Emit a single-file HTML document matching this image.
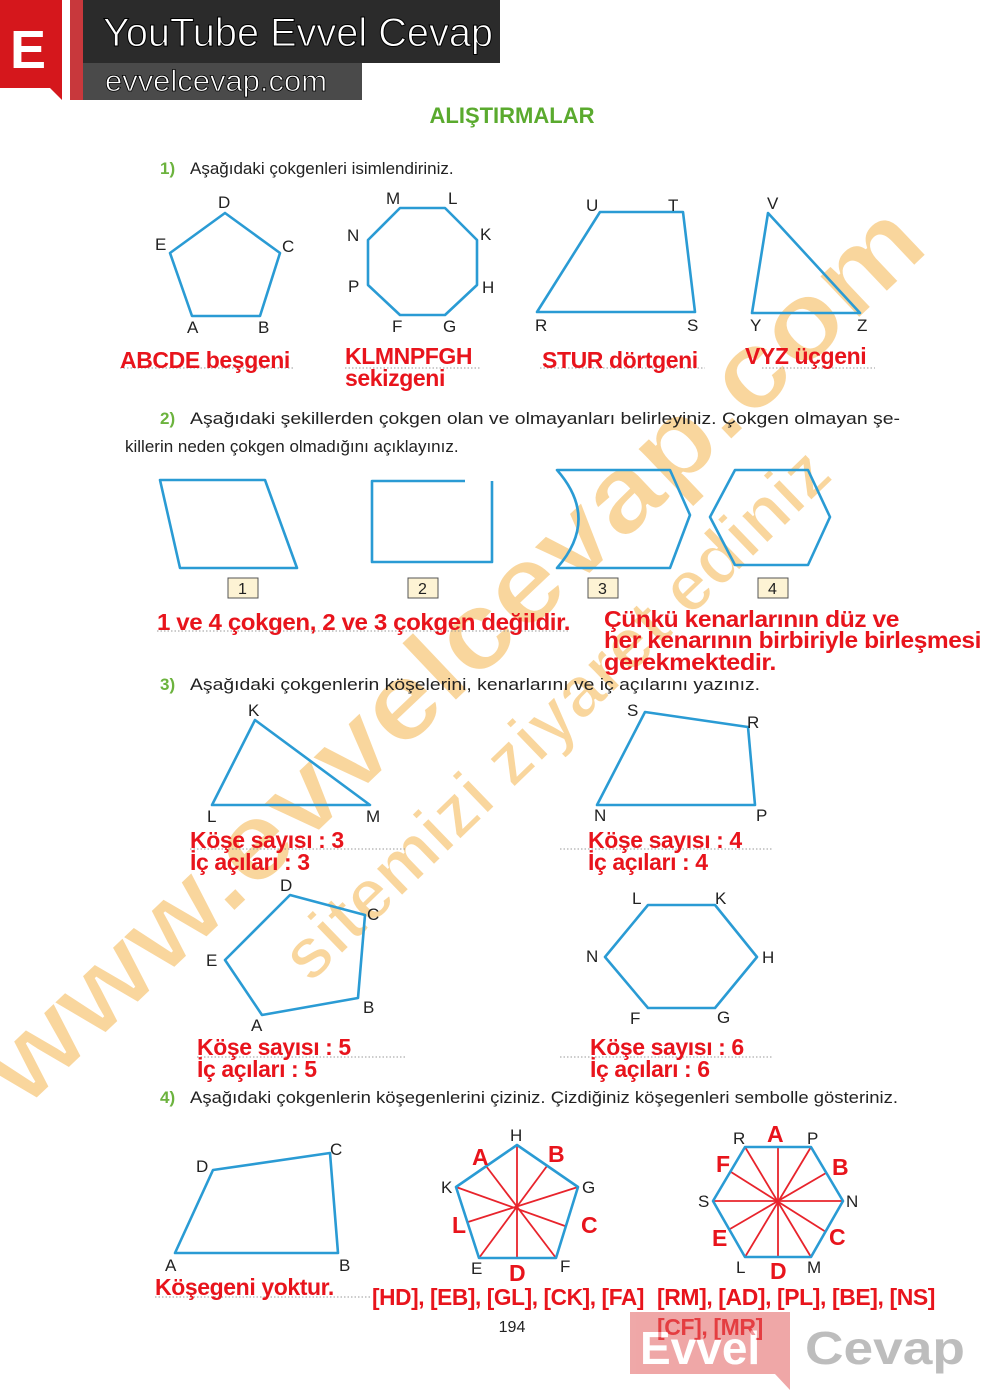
<!DOCTYPE html>
<html><head><meta charset="utf-8"><style>
body{margin:0;background:#fff}
svg{display:block}
.t{font-family:"Liberation Sans",sans-serif;font-size:17px;fill:#222}
.n{font-family:"Liberation Sans",sans-serif;font-weight:bold;font-size:17px;fill:#6cb33e}
.l{font-family:"Liberation Sans",sans-serif;font-size:17px;fill:#222}
.r{font-family:"Liberation Sans",sans-serif;font-weight:bold;font-size:23px;fill:#e8141c;letter-spacing:-0.4px}
.b{fill:none;stroke:#2a9bd4;stroke-width:2.6;stroke-linejoin:round}
.d{stroke:#999;stroke-width:1;stroke-dasharray:1.5 2}
.rl{stroke:#e8242c;stroke-width:1.8}
.w{font-family:"Liberation Sans",sans-serif;font-weight:bold;fill:#f7c97d;stroke:#fff;stroke-width:2;opacity:.75}
</style></head><body>
<svg width="1000" height="1400" viewBox="0 0 1000 1400" xmlns="http://www.w3.org/2000/svg">
<!-- header -->
<path d="M0 0H62V100L50 88H0Z" fill="#d5171c"/>
<text x="10" y="68" font-family="Liberation Sans" font-weight="bold" font-size="54" fill="#fff">E</text>
<rect x="70" y="0" width="13" height="100" fill="#c8383c"/>
<rect x="83" y="0" width="417" height="63" fill="#2b2b2b"/>
<rect x="83" y="63" width="279" height="37" fill="#4a4a4a"/>
<text x="103" y="46" font-family="Liberation Sans" font-size="40" fill="#fff" stroke="#000" stroke-width="1" textLength="390" lengthAdjust="spacingAndGlyphs">YouTube Evvel Cevap</text>
<text x="105" y="91" font-family="Liberation Sans" font-size="30" fill="#fff" stroke="#000" stroke-width="0.8" textLength="222" lengthAdjust="spacingAndGlyphs">evvelcevap.com</text>
<text x="512" y="123" text-anchor="middle" font-family="Liberation Sans" font-weight="bold" font-size="22" fill="#5aaa2e">ALIŞTIRMALAR</text>

<!-- watermark -->
<text class="w" font-size="110" transform="translate(25,1110) rotate(-43.5)" textLength="1250" lengthAdjust="spacingAndGlyphs">www.evvelcevap.com</text>
<text class="w" font-size="72" transform="translate(310,985) rotate(-44)" textLength="730" lengthAdjust="spacingAndGlyphs">sitemizi ziyaret ediniz</text>

<!-- section 1 -->
<text class="n" x="160" y="174">1)</text><text class="t" x="190" y="174">Aşağıdaki çokgenleri isimlendiriniz.</text>
<polygon class="b" points="225,213 280,253 260,316 192,316 170,253"/>
<text class="l" x="218" y="208">D</text><text class="l" x="282" y="252">C</text><text class="l" x="258" y="333">B</text><text class="l" x="187" y="333">A</text><text class="l" x="155" y="250">E</text>
<polygon class="b" points="400,208 445,208 477,240 477,285 445,315 400,315 368,285 368,240"/>
<text class="l" x="386" y="204">M</text><text class="l" x="448" y="204">L</text><text class="l" x="480" y="240">K</text><text class="l" x="482" y="293">H</text><text class="l" x="443" y="332">G</text><text class="l" x="392" y="332">F</text><text class="l" x="348" y="292">P</text><text class="l" x="347" y="241">N</text>
<polygon class="b" points="600,212 683,212 695,312 537,312"/>
<text class="l" x="586" y="211">U</text><text class="l" x="668" y="211">T</text><text class="l" x="687" y="331">S</text><text class="l" x="535" y="331">R</text>
<polygon class="b" points="768,213 860,313 752,313"/>
<text class="l" x="767" y="209">V</text><text class="l" x="857" y="331">Z</text><text class="l" x="750" y="331">Y</text>
<line class="d" x1="120" y1="368" x2="295" y2="368"/><line class="d" x1="345" y1="368" x2="480" y2="368"/><line class="d" x1="540" y1="368" x2="705" y2="368"/><line class="d" x1="762" y1="368" x2="875" y2="368"/>
<text class="r" x="120" y="368">ABCDE beşgeni</text>
<text class="r" x="345" y="364">KLMNPFGH</text><text class="r" x="345" y="386">sekizgeni</text>
<text class="r" x="542" y="368">STUR dörtgeni</text>
<text class="r" x="745" y="364">VYZ üçgeni</text>

<!-- section 2 -->
<text class="n" x="160" y="424">2)</text><text class="t" x="190" y="424" textLength="710" lengthAdjust="spacingAndGlyphs">Aşağıdaki şekillerden çokgen olan ve olmayanları belirleyiniz. Çokgen olmayan şe-</text>
<text class="t" x="125" y="452">killerin neden çokgen olmadığını açıklayınız.</text>
<polygon class="b" points="160,480 265,480 297,568 180,568"/>
<polyline class="b" points="465,481 372,481 372,562 492,562 492,481"/>
<path class="b" d="M557,470 H670 L690,515 L670,568 H557 Q600,519 557,470Z"/>
<polygon class="b" points="735,470 808,470 830,517 808,565 735,565 710,517"/>
<g font-family="Liberation Sans" font-size="16" fill="#222">
<rect x="228" y="578" width="30" height="20" fill="#fdf3d4" stroke="#555"/><text x="238" y="594">1</text>
<rect x="408" y="578" width="30" height="20" fill="#fdf3d4" stroke="#555"/><text x="418" y="594">2</text>
<rect x="588" y="578" width="30" height="20" fill="#fdf3d4" stroke="#555"/><text x="598" y="594">3</text>
<rect x="758" y="578" width="30" height="20" fill="#fdf3d4" stroke="#555"/><text x="768" y="594">4</text>
</g>
<line class="d" x1="157" y1="631" x2="570" y2="631"/>
<text class="r" x="157" y="630" textLength="413" lengthAdjust="spacingAndGlyphs">1 ve 4 çokgen, 2 ve 3 çokgen değildir.</text>
<text class="r" x="604" y="627" textLength="295" lengthAdjust="spacingAndGlyphs">Çünkü kenarlarının düz ve</text>
<text class="r" x="604" y="648" textLength="377" lengthAdjust="spacingAndGlyphs">her kenarının birbiriyle birleşmesi</text>
<text class="r" x="604" y="670" textLength="172" lengthAdjust="spacingAndGlyphs">gerekmektedir.</text>

<!-- section 3 -->
<text class="n" x="160" y="690">3)</text><text class="t" x="190" y="690" textLength="570" lengthAdjust="spacingAndGlyphs">Aşağıdaki çokgenlerin köşelerini, kenarlarını ve iç açılarını yazınız.</text>
<polygon class="b" points="255,720 370,805 212,805"/>
<text class="l" x="248" y="716">K</text><text class="l" x="366" y="822">M</text><text class="l" x="207" y="822">L</text>
<polygon class="b" points="645,712 748,727 755,805 597,805"/>
<text class="l" x="627" y="716">S</text><text class="l" x="747" y="728">R</text><text class="l" x="756" y="821">P</text><text class="l" x="594" y="821">N</text>
<line class="d" x1="190" y1="849" x2="405" y2="849"/><line class="d" x1="560" y1="849" x2="773" y2="849"/>
<text class="r" x="190" y="848">Köşe sayısı : 3</text><text class="r" x="190" y="870">İç açıları : 3</text>
<text class="r" x="588" y="848">Köşe sayısı : 4</text><text class="r" x="588" y="870">İç açıları : 4</text>
<polygon class="b" points="290,895 365,915 358,998 262,1015 225,960"/>
<text class="l" x="280" y="891">D</text><text class="l" x="367" y="920">C</text><text class="l" x="363" y="1013">B</text><text class="l" x="251" y="1031">A</text><text class="l" x="206" y="966">E</text>
<polygon class="b" points="648,905 715,905 757,957 715,1008 648,1008 605,957"/>
<text class="l" x="632" y="904">L</text><text class="l" x="715" y="904">K</text><text class="l" x="762" y="963">H</text><text class="l" x="717" y="1023">G</text><text class="l" x="630" y="1024">F</text><text class="l" x="586" y="962">N</text>
<line class="d" x1="197" y1="1057" x2="405" y2="1057"/><line class="d" x1="560" y1="1057" x2="773" y2="1057"/>
<text class="r" x="197" y="1055">Köşe sayısı : 5</text><text class="r" x="197" y="1077">İç açıları : 5</text>
<text class="r" x="590" y="1055">Köşe sayısı : 6</text><text class="r" x="590" y="1077">İç açıları : 6</text>

<!-- section 4 -->
<text class="n" x="160" y="1103">4)</text><text class="t" x="190" y="1103" textLength="708" lengthAdjust="spacingAndGlyphs">Aşağıdaki çokgenlerin köşegenlerini çiziniz. Çizdiğiniz köşegenleri sembolle gösteriniz.</text>
<polygon class="b" points="213,1170 330,1153 338,1253 175,1253"/>
<text class="l" x="196" y="1172">D</text><text class="l" x="330" y="1155">C</text><text class="l" x="339" y="1271">B</text><text class="l" x="165" y="1271">A</text>
<g class="rl">
<line x1="517" y1="1145" x2="517" y2="1258"/><line x1="578" y1="1187" x2="468" y2="1222"/><line x1="556" y1="1258" x2="486" y2="1166"/><line x1="479" y1="1258" x2="547" y2="1166"/><line x1="456" y1="1187" x2="565" y2="1226"/>
<line x1="745" y1="1147" x2="811" y2="1257"/><line x1="811" y1="1147" x2="745" y2="1257"/><line x1="778" y1="1147" x2="778" y2="1257"/><line x1="843" y1="1201" x2="713" y2="1201"/><line x1="826" y1="1173" x2="730" y2="1229"/><line x1="826" y1="1232" x2="731" y2="1172"/>
</g>
<polygon class="b" points="517,1145 578,1187 556,1258 479,1258 456,1187"/>
<polygon class="b" points="745,1147 811,1147 843,1201 811,1257 745,1257 713,1201"/>
<text class="l" x="510" y="1141">H</text><text class="l" x="582" y="1193">G</text><text class="l" x="560" y="1272">F</text><text class="l" x="471" y="1274">E</text><text class="l" x="441" y="1193">K</text>
<text class="l" x="733" y="1144">R</text><text class="l" x="807" y="1144">P</text><text class="l" x="846" y="1207">N</text><text class="l" x="807" y="1273">M</text><text class="l" x="736" y="1273">L</text><text class="l" x="698" y="1207">S</text>
<g class="r" style="font-size:23px">
<text x="472" y="1165">A</text><text x="548" y="1162">B</text><text x="581" y="1233">C</text><text x="509" y="1281">D</text><text x="452" y="1233">L</text>
<text x="767" y="1142">A</text><text x="832" y="1175">B</text><text x="829" y="1245">C</text><text x="770" y="1279">D</text><text x="712" y="1246">E</text><text x="716" y="1172">F</text>
</g>
<line class="d" x1="155" y1="1297" x2="370" y2="1297"/>
<text class="r" x="155" y="1295">Köşegeni yoktur.</text>
<text class="r" x="372" y="1305" textLength="272" lengthAdjust="spacingAndGlyphs">[HD], [EB], [GL], [CK], [FA]</text>
<text class="r" x="657" y="1305" textLength="278" lengthAdjust="spacingAndGlyphs">[RM], [AD], [PL], [BE], [NS]</text>
<text class="r" x="657" y="1335">[CF], [MR]</text>
<text x="512" y="1332" text-anchor="middle" font-family="Liberation Sans" font-size="16" fill="#222">194</text>
<!-- bottom logo -->
<g opacity="0.55">
<rect x="630" y="1312" width="160" height="62" fill="#e26060"/>
<path d="M775 1374 L790 1390 L790 1374Z" fill="#e26060"/>
<text x="640" y="1364" font-family="Liberation Sans" font-weight="bold" font-size="46" fill="#fff">Evvel</text>
<text x="805" y="1364" font-family="Liberation Sans" font-weight="bold" font-size="46" fill="#888" textLength="160" lengthAdjust="spacingAndGlyphs">Cevap</text>
</g>
</svg>
</body></html>
